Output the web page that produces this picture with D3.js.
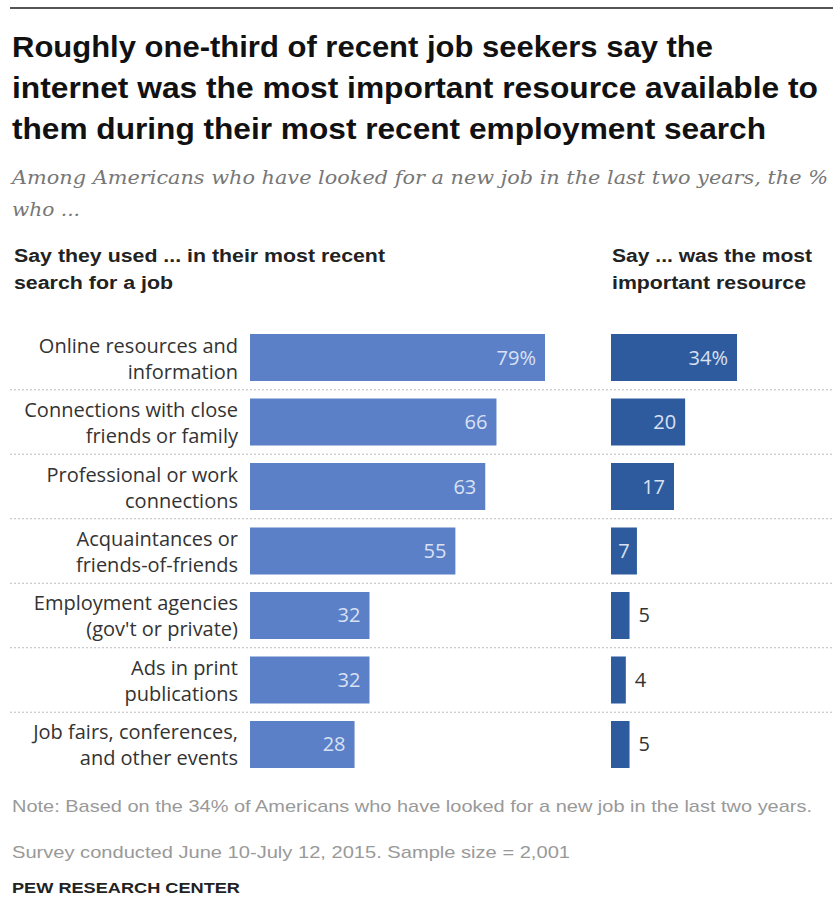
<!DOCTYPE html>
<html>
<head>
<meta charset="utf-8">
<script src="https://cdn.jsdelivr.net/npm/d3@7"></script>
<style>
  body { margin: 0; background: #fff; }
  svg { display: block; }
</style>
</head>
<body>
<div id="chart"></div>
<script>
// data
var categories = [
  ["Online resources and", "information"],
  ["Connections with close", "friends or family"],
  ["Professional or work", "connections"],
  ["Acquaintances or", "friends-of-friends"],
  ["Employment agencies", "(gov't or private)"],
  ["Ads in print", "publications"],
  ["Job fairs, conferences,", "and other events"]
]
var usedValues = [79, 66, 63, 55, 32, 32, 28]
var mostImportant = [34, 20, 17, 7, 5, 4, 5]

var titleLines = [
  "Roughly one-third of recent job seekers say the",
  "internet was the most important resource available to",
  "them during their most recent employment search"
]
var subtitleLines = [
  "Among Americans who have looked for a new job in the last two years, the %",
  "who ..."
]
var leftHeader = ["Say they used ... in their most recent", "search for a job"]
var rightHeader = ["Say ... was the most", "important resource"]
var noteLines = [
  "Note: Based on the 34% of Americans who have looked for a new job in the last two years.",
  "Survey conducted June 10-July 12, 2015. Sample size = 2,001"
]
var source = "PEW RESEARCH CENTER"

var W = 833, H = 924
var narrow = "'Liberation Sans Narrow', 'Arial Narrow', 'Liberation Sans', Arial, sans-serif"
var body = "'Open Sans', 'DejaVu Sans', sans-serif"

var svg = d3.select("#chart").append("svg").attr("width", W).attr("height", H)

// top rule
svg.append("line").attr("x1", 10).attr("x2", W).attr("y1", 8).attr("y2", 8)
  .attr("stroke", "#555").attr("stroke-width", 2)

// title
var titleY = [57, 98, 139], titleW = [701, 806, 754]
titleLines.forEach(function(t, i) {
  svg.append("text").text(t)
    .attr("x", 12).attr("y", titleY[i])
    .attr("font-family", narrow).attr("font-weight", "bold").attr("font-size", 29)
    .attr("fill", "#111")
    .attr("textLength", titleW[i]).attr("lengthAdjust", "spacingAndGlyphs")
})

// subtitle
var subY = [184, 216], subW = [816, 68]
subtitleLines.forEach(function(t, i) {
  svg.append("text").text(t)
    .attr("x", 12).attr("y", subY[i])
    .attr("font-family", "'DejaVu Serif', 'Liberation Serif', serif").attr("font-style", "italic")
    .attr("font-size", 19).attr("fill", "#777")
    .attr("textLength", subW[i]).attr("lengthAdjust", "spacingAndGlyphs")
})

// column headers
var headY = [262, 289]
var lhW = [371, 159], rhW = [200, 194]
leftHeader.forEach(function(t, i) {
  svg.append("text").text(t).attr("x", 14).attr("y", headY[i])
    .attr("font-family", narrow).attr("font-weight", "bold").attr("font-size", 18).attr("fill", "#222")
    .attr("textLength", lhW[i]).attr("lengthAdjust", "spacingAndGlyphs")
})
rightHeader.forEach(function(t, i) {
  svg.append("text").text(t).attr("x", 612).attr("y", headY[i])
    .attr("font-family", narrow).attr("font-weight", "bold").attr("font-size", 18).attr("fill", "#222")
    .attr("textLength", rhW[i]).attr("lengthAdjust", "spacingAndGlyphs")
})

// scales
var rows = d3.range(categories.length)
var y = d3.scaleBand().domain(rows).range([325.25, 776.75])
  .paddingInner(0.2713).paddingOuter(0.1357)
var xLeft = d3.scaleLinear().domain([0, 79]).range([250, 545])
var xRight = d3.scaleLinear().domain([0, 34]).range([611, 737])

// dotted separators
var g = svg.append("g")
g.selectAll(".sep").data(rows.slice(1)).enter().append("line")
  .attr("class", "sep")
  .attr("x1", 10).attr("x2", W)
  .attr("y1", function(d) { return y(d) - y.step() * y.paddingInner() / 2 })
  .attr("y2", function(d) { return y(d) - y.step() * y.paddingInner() / 2 })
  .attr("stroke", "#bbb").attr("stroke-width", 1).attr("stroke-dasharray", "2,2")

// category labels
var labels = g.selectAll(".cat").data(rows).enter().append("text")
  .attr("class", "cat")
  .attr("text-anchor", "end")
  .attr("font-family", body)
  .attr("font-size", 20).attr("fill", "#333")
labels.append("tspan").attr("x", 238)
  .attr("y", function(d) { return y(d) + y.bandwidth() / 2 - 5 })
  .text(function(d) { return categories[d][0] })
labels.append("tspan").attr("x", 238)
  .attr("y", function(d) { return y(d) + y.bandwidth() / 2 + 21 })
  .text(function(d) { return categories[d][1] })

// left bars
g.selectAll(".barL").data(rows).enter().append("rect")
  .attr("class", "barL")
  .attr("x", xLeft(0)).attr("y", function(d) { return y(d) })
  .attr("width", function(d) { return xLeft(usedValues[d]) - xLeft(0) })
  .attr("height", y.bandwidth())
  .attr("fill", "#5b80c8")

g.selectAll(".valL").data(rows).enter().append("text")
  .attr("class", "valL")
  .attr("x", function(d) { return xLeft(usedValues[d]) - 9 })
  .attr("y", function(d) { return y(d) + y.bandwidth() / 2 + 7 })
  .attr("text-anchor", "end")
  .attr("font-family", body)
  .attr("font-size", 20).attr("fill", "#d9e1f3")
  .text(function(d, i) { return i == 0 ? usedValues[d] + "%" : usedValues[d] })

// right bars
g.selectAll(".barR").data(rows).enter().append("rect")
  .attr("class", "barR")
  .attr("x", xRight(0)).attr("y", function(d) { return y(d) })
  .attr("width", function(d) { return xRight(mostImportant[d]) - xRight(0) })
  .attr("height", y.bandwidth())
  .attr("fill", "#2e5b9e")

g.selectAll(".valR").data(rows).enter().append("text")
  .attr("class", "valR")
  .attr("x", function(d) {
    var v = mostImportant[d]
    if (v < 7) return xRight(v) + 9
    if (v < 10) return (xRight(0) + xRight(v)) / 2
    return xRight(v) - 9
  })
  .attr("y", function(d) { return y(d) + y.bandwidth() / 2 + 7 })
  .attr("text-anchor", function(d) {
    var v = mostImportant[d]
    if (v < 7) return "start"
    if (v < 10) return "middle"
    return "end"
  })
  .attr("font-family", body)
  .attr("font-size", 20)
  .attr("fill", function(d) { return mostImportant[d] < 7 ? "#333" : "#d9e1f3" })
  .text(function(d, i) { return i == 0 ? mostImportant[d] + "%" : mostImportant[d] })

// notes
var noteY = [812, 858], noteW = [800, 558]
noteLines.forEach(function(t, i) {
  svg.append("text").text(t).attr("x", 12).attr("y", noteY[i])
    .attr("font-family", narrow).attr("font-size", 17).attr("fill", "#999")
    .attr("textLength", noteW[i]).attr("lengthAdjust", "spacingAndGlyphs")
})
svg.append("text").text(source).attr("x", 12).attr("y", 893)
  .attr("font-family", narrow).attr("font-weight", "bold").attr("font-size", 15.5).attr("fill", "#222")
  .attr("textLength", 228).attr("lengthAdjust", "spacingAndGlyphs")
</script>
</body>
</html>
